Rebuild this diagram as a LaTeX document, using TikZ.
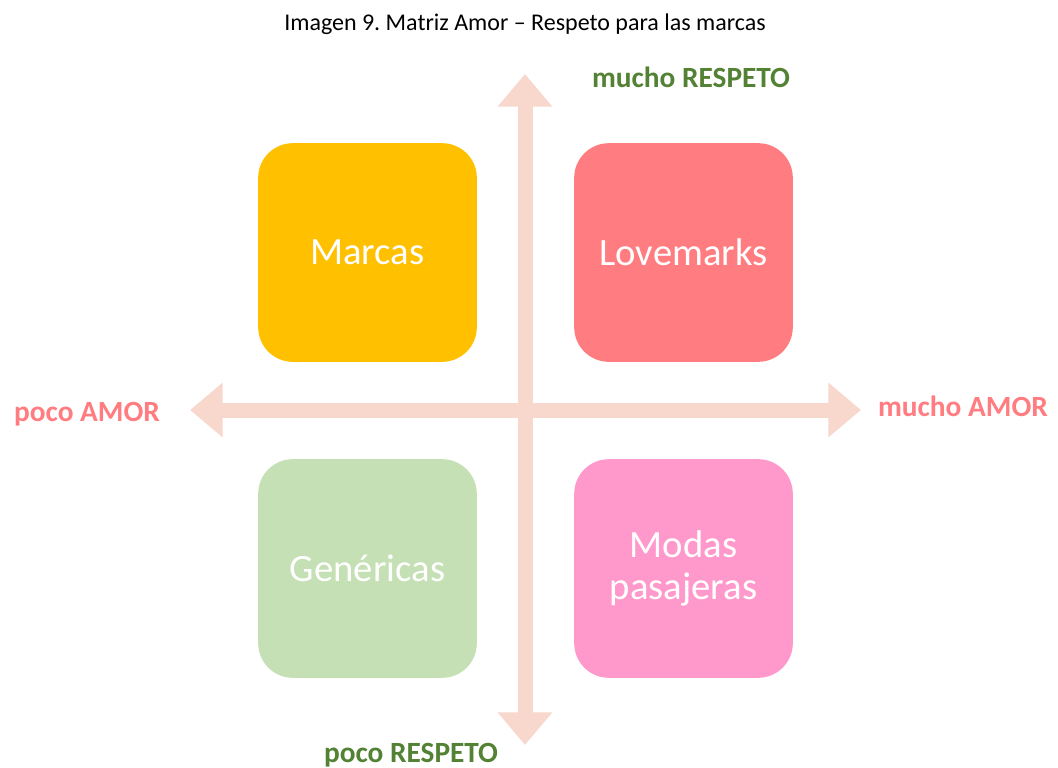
\documentclass[tikz,border=0pt]{standalone}
\usepackage{fontspec}
\setmainfont{Carlito}
\usetikzlibrary{arrows.meta}
\definecolor{marcasc}{HTML}{FFC000}
\definecolor{lovec}{HTML}{FF7C80}
\definecolor{genc}{HTML}{C5E0B4}
\definecolor{modasc}{HTML}{FF99CC}
\definecolor{axisc}{HTML}{F8D7CD}
\definecolor{respc}{HTML}{548235}
\definecolor{amorc}{HTML}{FF7C80}

\begin{document}
\begin{tikzpicture}
  [x=0.75pt,y=-0.75pt,
   quad/.style={rounded corners=26pt,minimum size=164pt,inner sep=0pt,
     text=white,align=center,font=\fontsize{29}{32}\selectfont},
   axis/.style={line width=11.25pt,draw=axisc,
     {Triangle[length=24.5pt,width=39.5pt]}-{Triangle[length=24.5pt,width=39.5pt]}},
   lbl/.style={anchor=base,font=\bfseries\fontsize{22}{26}\selectfont}]
  \useasboundingbox (0,0) rectangle (1058,768);

  \node[anchor=base,font=\fontsize{18}{22}\selectfont] (title) at (525,30)
    {Imagen 9.\ Matriz Amor -- Respeto para las marcas};

  % the two axes
  \coordinate (top) at (525,74);
  \coordinate (bot) at (525,745);
  \coordinate (lft) at (190,410);
  \coordinate (rgt) at (861,410);
  \foreach \from/\to in {bot/top,lft/rgt}
    \draw[axis] (\from) -- (\to);

  % quadrants
  \node[quad,fill=marcasc] (marcas) at (367.5,252.5) {Marcas};
  \node[quad,fill=lovec]   (love)   at (683.5,252.5) {Lovemarks};
  \node[quad,fill=genc]    (gen)    at (367.5,568.5) {Genéricas};
  \node[quad,fill=modasc]  (modas)  at (683.5,568.5) {Modas\\pasajeras};

  % axis labels
  \node[lbl,text=respc] (muchoR) at (691,87)  {mucho RESPETO};
  \node[lbl,text=respc] (pocoR)  at (411,762) {poco RESPETO};
  \node[lbl,text=amorc] (pocoA)  at (87,421)  {poco AMOR};
  \node[lbl,text=amorc] (muchoA) at (963,416) {mucho AMOR};

\end{tikzpicture}
\end{document}
